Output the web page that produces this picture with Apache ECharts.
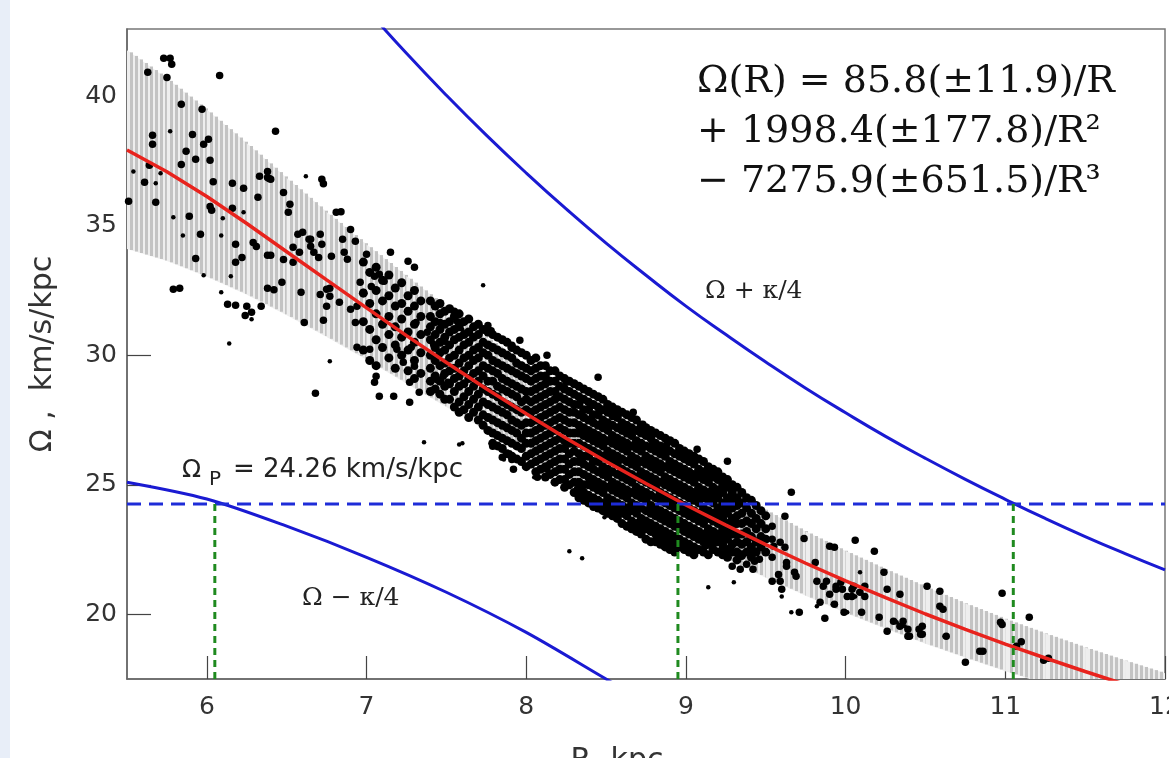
<!DOCTYPE html>
<html lang="en">
<head>
<meta charset="UTF-8">
<title>Omega(R)</title>
<script src="https://cdn.jsdelivr.net/npm/echarts@6/dist/echarts.min.js"></script>
<style>
  html, body { margin: 0; padding: 0; background: #fff; }
  #main { width: 1169px; height: 758px; }
</style>
</head>
<body>
<div id="main"></div>
<script>
// axis ticks
var xTicks = [6, 7, 8, 9, 10, 11, 12];
var yTicks = [20, 25, 30, 35, 40];

// pattern speed and the radii where it meets the curves
var omegaP = 24.26;
var crossR = [6.05, 8.95, 11.05];

// fitted rotation curve and its error band
var fitR = [5.5, 5.75, 6, 6.25, 6.5, 6.75, 7, 7.25, 7.5, 7.75, 8, 8.25, 8.5, 8.75, 9, 9.25, 9.5, 9.75, 10, 10.25, 10.5, 10.75, 11, 11.25, 11.5, 11.75, 12];
var fitOmega = [37.93, 37.09, 36.13, 35.09, 34.0, 32.91, 31.83, 30.76, 29.72, 28.71, 27.74, 26.8, 25.9, 25.05, 24.22, 23.44, 22.69, 21.97, 21.29, 20.64, 20.01, 19.42, 18.85, 18.31, 17.79, 17.29, 16.82];
var bandHi = [41.78, 40.69, 39.48, 38.19, 36.85, 35.53, 34.28, 33.06, 31.87, 30.71, 29.61, 28.55, 27.55, 26.6, 25.69, 24.84, 24.02, 23.2, 22.44, 21.74, 21.06, 20.42, 19.82, 19.26, 18.72, 18.21, 17.72];
var bandLo = [34.1, 33.64, 33.03, 32.34, 31.55, 30.71, 29.83, 28.91, 28.0, 27.09, 26.21, 25.34, 24.5, 23.69, 22.89, 22.14, 21.41, 20.71, 20.05, 19.44, 18.86, 18.32, 17.8, 17.31, 16.82, 16.34, 15.87];

// Omega + kappa/4 and Omega - kappa/4
var plusR = [7.0, 7.25, 7.5, 7.75, 8.0, 8.25, 8.5, 8.75, 9.0, 9.25, 9.5, 9.75, 10.0, 10.25, 10.5, 10.75, 11.0, 11.25, 11.5, 11.75, 12.0];
var plusOmega = [43.37, 41.66, 40.04, 38.5, 37.04, 35.65, 34.33, 33.09, 31.9, 30.8, 29.74, 28.73, 27.78, 26.87, 26.02, 25.21, 24.44, 23.7, 23.0, 22.34, 21.71];
var minusR = [5.5, 6.0, 6.5, 7.0, 7.5, 8.0, 8.5, 8.75];
var minusOmega = [25.1, 24.45, 23.4, 22.2, 20.85, 19.3, 17.5, 16.6];

// dense cloud of stars, one column per radius
var cloudCols = [
  [6.98, [33.6, 32.4, 31.3, 30.2]],
  [7.02, [33.2, 32.0, 31.0, 29.8]],
  [7.06, [33.4, 32.5, 31.6, 30.6, 29.6]],
  [7.10, [32.9, 32.1, 31.2, 30.3]],
  [7.14, [33.1, 32.3, 31.5, 30.8, 29.9]],
  [7.18, [32.6, 31.9, 31.1, 30.4, 29.5]],
  [7.22, [32.8, 32.0, 31.4, 30.7, 30.0]],
  [7.26, [32.3, 31.7, 30.9, 30.2, 29.4]],
  [7.30, [32.5, 31.9, 31.2, 30.5, 29.8, 29.1]],
  [7.34, [32.1, 31.5, 30.8, 30.1, 29.3]],
  [7.40, [32.1, 31.5, 31.1, 30.6, 30.0, 29.5, 29.0, 28.6]],
  [7.43, [31.9, 31.3, 30.8, 30.3, 29.8, 29.2, 28.7]],
  [7.46, [32.0, 31.6, 31.0, 30.5, 30.1, 29.6, 29.0, 28.5]],
  [7.49, [31.7, 31.2, 30.7, 30.2, 29.7, 29.3, 28.8, 28.3]],
  [7.52, [31.8, 31.3, 30.9, 30.4, 29.9, 29.4, 28.9, 28.3]],
  [7.55, [31.5, 31.0, 30.6, 30.0, 29.5, 29.1, 28.6, 28.0]],
  [7.58, [31.6, 31.1, 30.7, 30.2, 29.7, 29.2, 28.8, 28.2, 27.8]],
  [7.61, [31.3, 30.8, 30.4, 29.9, 29.4, 28.9, 28.4, 27.9]],
  [7.64, [31.4, 30.9, 30.5, 30.0, 29.6, 29.1, 28.6, 28.1, 27.6]],
  [7.67, [31.1, 30.7, 30.2, 29.8, 29.3, 28.8, 28.3, 27.8]],
  [7.70, [31.2, 30.8, 30.3, 29.9, 29.4, 29.0, 28.5, 28.0, 27.5]],
  [7.73, [31.0, 30.5, 30.1, 29.6, 29.2, 28.7, 28.2, 27.7, 27.3]],
  [7.76, [30.9, 30.4, 30.0, 29.5, 29.0, 28.6, 28.1, 27.6, 27.1]],
  [7.79, [30.8, 30.3, 29.8, 29.4, 29.0, 28.5, 28.0, 27.5, 27.0, 26.6]],
  [7.82, [30.7, 30.2, 29.7, 29.3, 28.8, 28.4, 27.9, 27.4, 26.9, 26.5]],
  [7.85, [30.6, 30.1, 29.6, 29.1, 28.7, 28.2, 27.8, 27.3, 26.8, 26.4]],
  [7.88, [30.5, 30.0, 29.5, 29.0, 28.6, 28.1, 27.7, 27.2, 26.7, 26.2]],
  [7.91, [30.3, 29.9, 29.4, 28.9, 28.5, 28.0, 27.5, 27.1, 26.6, 26.1]],
  [7.94, [30.2, 29.7, 29.3, 28.8, 28.4, 27.9, 27.4, 27.0, 26.5, 26.0]],
  [7.97, [30.1, 29.6, 29.2, 28.7, 28.2, 27.8, 27.3, 26.8, 26.4, 25.9]],
  [8.00, [30.0, 29.5, 29.1, 28.6, 28.3, 27.9, 27.4, 27.0, 26.6, 26.1, 25.7]],
  [8.03, [29.8, 29.4, 29.0, 28.6, 28.2, 27.8, 27.4, 27.0, 26.6, 26.2, 25.8]],
  [8.06, [29.9, 29.5, 29.1, 28.7, 28.3, 27.9, 27.5, 27.1, 26.7, 26.3, 25.9, 25.5]],
  [8.09, [29.6, 29.2, 28.8, 28.4, 28.0, 27.6, 27.2, 26.8, 26.4, 26.0, 25.6]],
  [8.12, [29.6, 29.2, 28.9, 28.5, 28.1, 27.7, 27.3, 26.9, 26.5, 26.1, 25.7, 25.3]],
  [8.15, [29.4, 29.0, 28.6, 28.2, 27.8, 27.4, 27.0, 26.6, 26.2, 25.8, 25.4]],
  [8.18, [29.4, 29.0, 28.6, 28.3, 27.9, 27.5, 27.1, 26.7, 26.3, 25.9, 25.5, 25.1]],
  [8.21, [29.2, 28.8, 28.4, 28.0, 27.6, 27.2, 26.8, 26.4, 26.0, 25.6, 25.2]],
  [8.24, [29.1, 28.7, 28.3, 27.9, 27.5, 27.1, 26.7, 26.4, 26.0, 25.6, 25.2, 24.9]],
  [8.27, [29.0, 28.6, 28.2, 27.8, 27.4, 27.0, 26.6, 26.2, 25.8, 25.4, 25.0]],
  [8.30, [28.9, 28.5, 28.1, 27.8, 27.4, 27.0, 26.6, 26.3, 25.9, 25.5, 25.1, 24.7]],
  [8.33, [28.8, 28.4, 28.1, 27.7, 27.3, 27.0, 26.6, 26.2, 25.9, 25.5, 25.1, 24.8, 24.5]],
  [8.36, [28.7, 28.3, 27.9, 27.6, 27.2, 26.9, 26.5, 26.1, 25.8, 25.4, 25.0, 24.7, 24.4]],
  [8.39, [28.6, 28.2, 27.9, 27.5, 27.1, 26.8, 26.4, 26.1, 25.7, 25.3, 25.0, 24.6, 24.3]],
  [8.42, [28.5, 28.1, 27.7, 27.4, 27.0, 26.7, 26.3, 25.9, 25.6, 25.2, 24.9, 24.5, 24.2]],
  [8.45, [28.4, 28.0, 27.7, 27.3, 26.9, 26.6, 26.2, 25.9, 25.5, 25.1, 24.8, 24.4, 24.1]],
  [8.48, [28.3, 27.9, 27.5, 27.2, 26.8, 26.5, 26.1, 25.7, 25.4, 25.0, 24.7, 24.3, 24.0]],
  [8.51, [28.1, 27.8, 27.4, 27.1, 26.7, 26.3, 26.0, 25.6, 25.3, 24.9, 24.5, 24.2, 23.9]],
  [8.54, [28.0, 27.7, 27.3, 26.9, 26.6, 26.2, 25.9, 25.5, 25.1, 24.8, 24.4, 24.1, 23.8]],
  [8.57, [27.9, 27.6, 27.2, 26.8, 26.5, 26.1, 25.8, 25.4, 25.0, 24.7, 24.3, 24.0, 23.7]],
  [8.60, [27.8, 27.4, 27.1, 26.7, 26.4, 26.0, 25.6, 25.3, 24.9, 24.6, 24.2, 23.9, 23.5]],
  [8.63, [27.7, 27.3, 27.0, 26.6, 26.3, 25.9, 25.5, 25.2, 24.8, 24.5, 24.1, 23.8, 23.4]],
  [8.66, [27.6, 27.2, 26.9, 26.5, 26.1, 25.8, 25.4, 25.1, 24.7, 24.3, 24.0, 23.6, 23.3]],
  [8.69, [27.5, 27.1, 26.7, 26.4, 26.0, 25.7, 25.3, 24.9, 24.6, 24.2, 23.9, 23.5, 23.2]],
  [8.72, [27.3, 27.0, 26.6, 26.3, 25.9, 25.5, 25.2, 24.8, 24.5, 24.1, 23.7, 23.4, 23.1]],
  [8.75, [27.2, 26.9, 26.5, 26.1, 25.8, 25.4, 25.1, 24.7, 24.4, 24.0, 23.6, 23.3, 22.9]],
  [8.78, [27.1, 26.8, 26.4, 26.0, 25.7, 25.3, 25.0, 24.6, 24.2, 23.9, 23.5, 23.2, 22.8]],
  [8.81, [27.0, 26.6, 26.3, 25.9, 25.6, 25.2, 24.9, 24.5, 24.1, 23.8, 23.4, 23.1, 22.8]],
  [8.84, [26.9, 26.5, 26.2, 25.8, 25.5, 25.1, 24.7, 24.4, 24.0, 23.7, 23.3, 23.0, 22.7]],
  [8.87, [26.8, 26.4, 26.1, 25.7, 25.3, 25.0, 24.6, 24.3, 23.9, 23.6, 23.2, 22.9, 22.6]],
  [8.90, [26.7, 26.3, 25.9, 25.6, 25.2, 24.9, 24.5, 24.2, 23.8, 23.5, 23.1, 22.8, 22.5]],
  [8.93, [26.6, 26.2, 25.8, 25.5, 25.1, 24.8, 24.4, 24.1, 23.7, 23.4, 23.0, 22.7, 22.4]],
  [8.96, [26.4, 26.1, 25.7, 25.4, 25.0, 24.7, 24.3, 24.0, 23.6, 23.3, 22.9, 22.6]],
  [8.99, [26.3, 26.0, 25.6, 25.3, 24.9, 24.6, 24.2, 23.9, 23.5, 23.2, 22.8, 22.5]],
  [9.02, [26.2, 25.9, 25.5, 25.2, 24.8, 24.5, 24.1, 23.8, 23.4, 23.1, 22.7, 22.4]],
  [9.05, [26.1, 25.8, 25.4, 25.1, 24.7, 24.4, 24.0, 23.7, 23.3, 23.0, 22.6, 22.3]],
  [9.08, [26.0, 25.6, 25.3, 24.9, 24.6, 24.3, 23.9, 23.6, 23.2, 22.9, 22.5]],
  [9.11, [25.9, 25.5, 25.2, 24.8, 24.5, 24.1, 23.8, 23.5, 23.1, 22.8, 22.4]],
  [9.14, [25.7, 25.4, 25.1, 24.7, 24.4, 24.0, 23.7, 23.3, 23.0, 22.7, 22.3]],
  [9.17, [25.6, 25.3, 24.9, 24.6, 24.3, 23.9, 23.6, 23.2, 22.9, 22.5]],
  [9.20, [25.5, 25.2, 24.8, 24.5, 24.1, 23.8, 23.5, 23.1, 22.8, 22.4]],
  [9.23, [25.3, 25.0, 24.7, 24.3, 24.0, 23.7, 23.3, 23.0, 22.7, 22.3]],
  [9.26, [25.2, 24.9, 24.5, 24.2, 23.9, 23.5, 23.2, 22.9, 22.5, 22.2]],
  [9.29, [25.0, 24.7, 24.4, 24.1, 23.7, 23.4, 23.1, 22.7, 22.4]],
  [9.32, [24.9, 24.5, 24.2, 23.8, 23.5, 23.1, 22.8, 22.4, 22.1]],
  [9.35, [24.7, 24.3, 23.9, 23.5, 23.1, 22.7, 22.3]],
  [9.38, [24.5, 24.1, 23.6, 23.2, 22.8, 22.4]],
  [9.41, [24.4, 23.9, 23.5, 23.0, 22.6, 22.2]],
  [9.44, [24.2, 23.7, 23.3, 22.8, 22.4]],
  [9.47, [24.0, 23.5, 23.0, 22.6]],
  [9.50, [23.8, 23.3, 22.9, 22.4]]
];

// scattered stars outside the dense cloud
var ptsBig = [
  [5.73, 41.47], [5.77, 41.47], [5.78, 41.24], [5.63, 40.93], [5.75, 40.73], [6.08, 40.8], [5.84, 39.69], [5.97, 39.5],
  [5.66, 38.5], [5.66, 38.15], [5.91, 38.53], [5.98, 38.15], [6.01, 38.34], [6.43, 38.65], [5.87, 37.88], [5.93, 37.57], [6.02, 37.53], [5.64, 37.34], [5.84, 37.37],
  [5.61, 36.68], [6.04, 36.7], [6.16, 36.64], [6.23, 36.45], [6.38, 37.1], [6.39, 36.83], [6.72, 36.8], [6.73, 36.62], [6.38, 36.87], [6.4, 36.8], [6.33, 36.91],
  [5.51, 35.95], [5.68, 35.91], [6.02, 35.75], [6.03, 35.6], [6.32, 36.1], [6.48, 36.29], [6.52, 35.83], [6.51, 35.52], [6.16, 35.68], [6.81, 35.52], [6.84, 35.54],
  [5.89, 35.37], [5.96, 34.67], [6.18, 34.29], [6.29, 34.36], [6.31, 34.2], [6.38, 33.86], [6.40, 33.86], [6.48, 33.7], [6.54, 33.59],
  [6.57, 34.67], [6.6, 34.75], [6.65, 34.48], [6.71, 34.67], [6.72, 34.29], [6.85, 34.48], [6.9, 34.86], [6.93, 34.4],
  [6.64, 34.48], [6.65, 34.21], [6.67, 33.98], [6.7, 33.78], [6.58, 33.98], [6.54, 34.17], [6.78, 33.82], [6.86, 33.98], [6.88, 33.71],
  [5.93, 33.74], [6.22, 33.78], [6.18, 33.59], [7.0, 33.9], [7.15, 33.98], [5.79, 32.55], [5.83, 32.59],
  [6.38, 32.59], [6.42, 32.53], [6.59, 32.43], [6.71, 32.35], [6.77, 32.59], [6.13, 31.97], [6.18, 31.93], [6.25, 31.89], [6.28, 31.66], [6.24, 31.54], [6.34, 31.89],
  [6.47, 32.82], [6.61, 31.27], [6.73, 31.35], [6.68, 28.53],
  [6.75, 32.55], [6.77, 32.28], [6.75, 31.89], [6.83, 32.05], [6.9, 31.78], [6.94, 31.89],
  [7.05, 33.05], [6.96, 32.82], [6.98, 32.43], [7.03, 32.66], [7.08, 33.13], [7.11, 32.86], [7.26, 33.63], [7.3, 33.4],
  [6.93, 31.27], [6.94, 30.31], [7.02, 30.23], [7.19, 30.23], [7.28, 30.31], [7.31, 31.27], [7.38, 30.89], [7.46, 31.27], [7.42, 30.42], [7.49, 30.54],
  [7.23, 29.73], [7.3, 29.58], [7.27, 28.96], [7.33, 28.57], [7.44, 29.07], [7.48, 29.19], [7.51, 28.96], [7.06, 29.19], [7.05, 28.96], [7.08, 28.42], [7.17, 28.42], [7.27, 28.19],
  [7.55, 31.7], [7.57, 31.3], [7.76, 31.15], [7.78, 30.95], [7.96, 30.58], [7.91, 30.39], [8.13, 30.0], [8.45, 29.15], [8.25, 28.96], [8.52, 28.03], [8.67, 27.8], [8.54, 27.64],
  [7.79, 26.49], [7.85, 26.06], [7.91, 25.98], [7.92, 25.6], [8.07, 25.29], [8.13, 25.6], [8.32, 24.83], [8.42, 24.13],
  [9.07, 26.37], [9.0, 26.25], [9.26, 25.91], [8.73, 27.34], [8.71, 27.03], [8.79, 26.64], [8.88, 26.56],
  [9.66, 24.71], [9.62, 23.78], [9.74, 22.93], [9.54, 23.4], [9.54, 22.9], [9.59, 22.78], [9.55, 22.63], [9.62, 22.59], [9.63, 22.0], [9.54, 22.2], [9.58, 21.54], [9.54, 21.27], [9.59, 21.27], [9.63, 21.85], [9.68, 21.62], [9.6, 20.97], [9.69, 21.47],
  [9.12, 22.63], [9.17, 22.7], [9.2, 22.9], [9.23, 22.59], [9.29, 21.85], [9.34, 21.74], [9.38, 21.93], [9.35, 22.24], [9.4, 22.39], [9.43, 22.05], [9.46, 22.12], [9.42, 21.74],
  [9.81, 22.0], [9.82, 21.27], [9.86, 21.08], [9.88, 21.27], [9.94, 21.08], [9.98, 20.97], [10.01, 20.69], [10.04, 20.97],
  [9.9, 22.63], [9.93, 22.59], [10.06, 22.86], [10.18, 22.43], [10.24, 21.62],
  [9.93, 20.39], [9.99, 20.08], [9.84, 20.46], [9.71, 20.08], [9.87, 19.85], [10.1, 20.08], [10.21, 19.88], [10.26, 20.97], [10.34, 20.77],
  [10.26, 19.34], [10.3, 19.73], [10.34, 19.54], [10.36, 19.73], [10.39, 19.42], [10.39, 19.15], [10.48, 19.54], [10.48, 19.23],
  [10.51, 21.08], [10.59, 20.89], [10.59, 20.31], [10.61, 20.19], [10.63, 19.15], [10.84, 18.57], [10.86, 18.57], [10.75, 18.15],
  [10.98, 20.81], [11.15, 19.88], [10.97, 19.69], [10.98, 19.6], [11.1, 18.94], [11.07, 18.76], [11.24, 18.22], [11.27, 18.3],
  [10.46, 19.42], [10.47, 19.23], [10.4, 19.15], [10.12, 20.69], [10.05, 21.08], [10.09, 20.85], [10.04, 20.69], [10.12, 21.08], [9.97, 21.24], [9.94, 20.97], [9.9, 20.77]
];
var ptsSmall = [
  [5.77, 38.65], [5.54, 37.1], [5.71, 37.03], [5.68, 36.64], [6.62, 36.91], [6.23, 35.52], [5.79, 35.33], [6.1, 35.29], [5.85, 34.63], [6.09, 34.63],
  [5.98, 33.09], [6.09, 32.43], [6.15, 33.05], [6.28, 31.39], [6.14, 30.46], [6.77, 29.77],
  [7.73, 32.7], [7.6, 31.0], [8.19, 29.3], [7.6, 26.6], [7.36, 26.64], [7.58, 26.56], [8.27, 22.43], [8.35, 22.16], [8.49, 23.75], [8.55, 23.98],
  [7.86, 25.98], [7.97, 25.87], [7.9, 26.25], [8.05, 25.29], [8.91, 26.25],
  [9.14, 21.04], [9.3, 21.24], [9.14, 22.32], [9.6, 20.69], [10.09, 21.62], [9.66, 20.08], [9.82, 20.31], [9.92, 20.39], [10.01, 20.08], [10.21, 19.85],
  [10.32, 19.69], [10.37, 19.54], [10.62, 19.15], [10.08, 20.85], [10.06, 20.69]
];

function zip(xs, ys) {
  return xs.map(function (x, i) { return [x, ys[i]]; });
}

var cloud = [];
cloudCols.forEach(function (col) {
  col[1].forEach(function (v) { cloud.push([col[0], v]); });
});

// band segments: [r0, lo0, hi0, r1, lo1, hi1]
var bandSeg = [];
for (var i = 0; i < fitR.length - 1; i++) {
  bandSeg.push([fitR[i], bandLo[i], bandHi[i], fitR[i + 1], bandLo[i + 1], bandHi[i + 1]]);
}

// grey band drawn as a light fill with dense vertical stripes
function renderBand(params, api) {
  var a0 = api.coord([api.value(0), api.value(1)]);
  var b0 = api.coord([api.value(0), api.value(2)]);
  var a1 = api.coord([api.value(3), api.value(4)]);
  var b1 = api.coord([api.value(3), api.value(5)]);
  var kids = [{
    type: 'polygon',
    shape: { points: [b0, b1, a1, a0] },
    style: { fill: '#eeeeee' }
  }];
  var x0 = a0[0], x1 = a1[0];
  for (var x = Math.ceil(x0 / 5) * 5; x < x1; x += 5) {
    var t = (x - x0) / (x1 - x0);
    var top = b0[1] + (b1[1] - b0[1]) * t;
    var bot = a0[1] + (a1[1] - a0[1]) * t;
    kids.push({
      type: 'rect',
      shape: { x: x, y: top, width: 3, height: bot - top },
      style: { fill: '#c3c3c3' }
    });
  }
  return { type: 'group', children: kids };
}

var sans = '"DejaVu Sans", sans-serif';
var serif = '"DejaVu Serif", serif';

var chart = echarts.init(document.getElementById('main'));

var series = [
  {
    type: 'custom', renderItem: renderBand, clip: true, silent: true,
    encode: { x: [0, 3], y: [1, 2, 4, 5] },
    data: bandSeg, z: 1
  },
  {
    type: 'scatter', symbolSize: 9, itemStyle: { color: '#000', opacity: 1 },
    data: cloud, z: 3
  },
  {
    type: 'scatter', symbolSize: 7.5, itemStyle: { color: '#000', opacity: 1 },
    data: ptsBig, z: 3
  },
  {
    type: 'scatter', symbolSize: 4.5, itemStyle: { color: '#000', opacity: 1 },
    data: ptsSmall, z: 3
  },
  {
    type: 'line', symbol: 'none',
    lineStyle: { color: '#e8231d', width: 3.5 },
    data: zip(fitR, fitOmega), z: 5
  },
  {
    type: 'line', symbol: 'none', smooth: true,
    lineStyle: { color: '#1a1ad2', width: 3 },
    data: zip(plusR, plusOmega), z: 5
  },
  {
    type: 'line', symbol: 'none', smooth: 0.3,
    lineStyle: { color: '#1a1ad2', width: 3 },
    data: zip(minusR, minusOmega), z: 5
  },
  {
    type: 'line', symbol: 'none',
    lineStyle: { color: '#1e2cd8', width: 3, type: [14, 8] },
    data: [[5.5, omegaP], [12, omegaP]], z: 6
  }
];
crossR.forEach(function (r) {
  series.push({
    type: 'line', symbol: 'none',
    lineStyle: { color: '#1f8a1f', width: 3, type: [7, 5] },
    data: [[r, 17.5], [r, omegaP]], z: 6
  });
});

chart.setOption({
  backgroundColor: '#fff',
  animation: false,
  grid: {
    left: 127, right: 4, top: 29, bottom: 79,
    outerBoundsMode: 'none', containLabel: false,
    show: true, borderColor: '#777', borderWidth: 1.5, backgroundColor: 'transparent'
  },
  xAxis: {
    type: 'value', min: 5.5, max: 12,
    name: 'R, kpc', nameLocation: 'middle', nameGap: 67,
    nameTextStyle: { fontFamily: sans, fontSize: 30, color: '#333', padding: [0, 58, 0, 0] },
    axisLine: { lineStyle: { color: '#666', width: 1.5 } },
    axisTick: { inside: true, length: 23, customValues: xTicks, lineStyle: { color: '#444', width: 1.2 } },
    axisLabel: { customValues: xTicks, margin: 16, fontFamily: sans, fontSize: 25, color: '#333' },
    splitLine: { show: false }
  },
  yAxis: {
    type: 'value', min: 17.5, max: 42.6,
    name: 'Ω ,  km/s/kpc', nameLocation: 'middle', nameRotate: 90, nameGap: 69,
    nameTextStyle: { fontFamily: sans, fontSize: 30, color: '#333' },
    axisLine: { lineStyle: { color: '#666', width: 1.5 } },
    axisTick: { inside: true, length: 24, customValues: yTicks, lineStyle: { color: '#444', width: 1.2 } },
    axisLabel: { customValues: yTicks, margin: 10, fontFamily: sans, fontSize: 25, color: '#333' },
    splitLine: { show: false }
  },
  graphic: [
    { type: 'rect', shape: { x: 0, y: 0, width: 10, height: 758 }, style: { fill: '#e8eef8' }, z: -1 },
    { type: 'text', x: 697, y: 82, style: { text: 'Ω(R) = 85.8(±11.9)/R', font: '38px ' + serif, fill: '#111', verticalAlign: 'middle' } },
    { type: 'text', x: 697, y: 132, style: { text: '+ 1998.4(±177.8)/R²', font: '38px ' + serif, fill: '#111', verticalAlign: 'middle' } },
    { type: 'text', x: 697, y: 182, style: { text: '− 7275.9(±651.5)/R³', font: '38px ' + serif, fill: '#111', verticalAlign: 'middle' } },
    { type: 'text', x: 705, y: 291, style: { text: 'Ω + κ/4', font: '25px ' + serif, fill: '#222', verticalAlign: 'middle' } },
    { type: 'text', x: 302, y: 598, style: { text: 'Ω − κ/4', font: '25px ' + serif, fill: '#222', verticalAlign: 'middle' } },
    { type: 'text', x: 182, y: 470, style: { text: 'Ω', font: '25px ' + sans, fill: '#222', verticalAlign: 'middle' } },
    { type: 'text', x: 209, y: 480, style: { text: 'P', font: '20px ' + sans, fill: '#222', verticalAlign: 'middle' } },
    { type: 'text', x: 233, y: 470, style: { text: '= 24.26 km/s/kpc', font: '26px ' + sans, fill: '#222', verticalAlign: 'middle' } }
  ],
  series: series
});
</script>
</body>
</html>
